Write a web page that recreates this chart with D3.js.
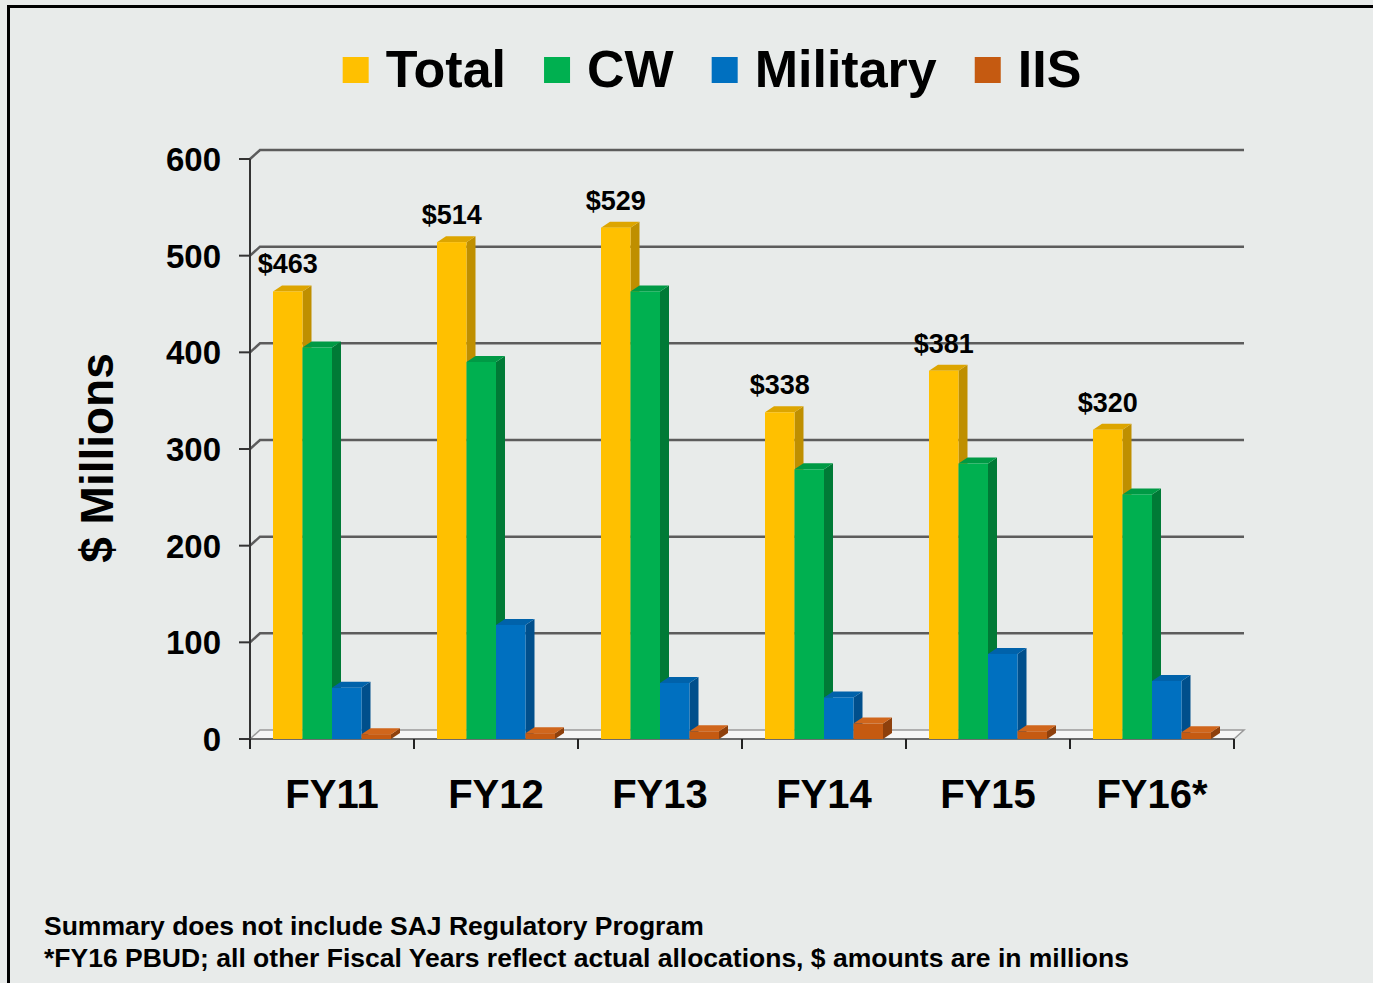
<!DOCTYPE html>
<html lang="en">
<head>
  <meta charset="UTF-8">
  <title>Funding by Fiscal Year</title>
  <style>
    body { margin: 0; background: #e8ebea; }
    svg { display: block; font-family: "Liberation Sans", Arial, sans-serif; font-weight: bold; }
  </style>
</head>
<body>
  <svg id="chart" width="1373" height="983"></svg>
  <script src="https://d3js.org/d3.v7.min.js"></script>
  <script>
    // data ($ millions)
    const years = ['FY11', 'FY12', 'FY13', 'FY14', 'FY15', 'FY16*']
    const seriesNames = ['Total', 'CW', 'Military', 'IIS']
    const total = [463, 514, 529, 338, 381, 320]
    const cw = [405, 390, 463, 279, 285, 253]
    const military = [53, 118, 58, 43, 88, 60]
    const iis = [5, 6, 8, 16, 8, 7]
    const yTicks = [0, 100, 200, 300, 400, 500, 600]
    const notes = [
      'Summary does not include SAJ Regulatory Program',
      '*FY16 PBUD; all other Fiscal Years reflect actual allocations, $ amounts are in millions'
    ]

    const values = { Total: total, CW: cw, Military: military, IIS: iis }
    const colors = {
      Total:    { front: '#FFC000', top: '#DDA500', side: '#BF8F00' },
      CW:       { front: '#00B050', top: '#009A45', side: '#007A36' },
      Military: { front: '#0070C0', top: '#0062AA', side: '#004F8C' },
      IIS:      { front: '#C55A11', top: '#D0661C', side: '#8E400C' }
    }

    const svg = d3.select('#chart')
    const width = +svg.attr('width')
    const height = +svg.attr('height')

    // chart depth (back wall offset) and bar depth
    const wallDx = 10, wallDy = -9
    const barDx = 9, barDy = -6

    const x0 = d3.scaleBand().domain(years).range([250, 1234])
    const x1 = d3.scaleBand().domain(seriesNames).range([0, x0.bandwidth()])
      .paddingInner(0).paddingOuter(0.78)
    const y = d3.scaleLinear().domain([0, 600]).range([739, 159])

    // background and frame
    svg.append('rect').attr('width', width).attr('height', height).attr('fill', '#e8ebea')
    svg.append('rect')
      .attr('x', 8.5).attr('y', 6.5)
      .attr('width', width + 10).attr('height', height + 10)
      .attr('fill', 'none').attr('stroke', '#000').attr('stroke-width', 3)

    // floor
    const fl = x0.range()[0], fr = x0.range()[1], f0 = y(0)
    svg.append('path')
      .attr('d', `M${fl},${f0} L${fl + wallDx},${f0 + wallDy} L${fr + wallDx},${f0 + wallDy} L${fr},${f0} Z`)
      .attr('fill', '#f6f6f6').attr('stroke', '#9a9a9a').attr('stroke-width', 1.5)

    // gridlines on the back wall, with the diagonal on the side wall
    svg.append('g').selectAll('path')
      .data(yTicks.filter(d => d > 0))
      .join('path')
      .attr('d', d => `M${fl},${y(d)} L${fl + wallDx},${y(d) + wallDy} L${fr + wallDx},${y(d) + wallDy}`)
      .attr('fill', 'none')
      .attr('stroke', '#5c5c5c')
      .attr('stroke-width', 2.5)

    // value axis
    const yAxis = svg.append('g')
    yAxis.append('line')
      .attr('x1', fl).attr('x2', fl).attr('y1', y(600)).attr('y2', y(0))
      .attr('stroke', '#333').attr('stroke-width', 2)
    yAxis.selectAll('.tick')
      .data(yTicks)
      .join('g')
      .attr('class', 'tick')
      .attr('transform', d => `translate(0,${y(d)})`)
      .call(g => g.append('line').attr('x1', fl - 11).attr('x2', fl)
        .attr('stroke', '#333').attr('stroke-width', 2))
      .call(g => g.append('text')
        .attr('x', 221).attr('dy', '0.36em')
        .attr('text-anchor', 'end')
        .attr('font-size', 33)
        .attr('fill', '#000')
        .text(d => d))

    // category axis
    const xAxis = svg.append('g')
    xAxis.append('line')
      .attr('x1', fl).attr('x2', fr).attr('y1', f0).attr('y2', f0)
      .attr('stroke', '#555').attr('stroke-width', 1.5)
    xAxis.selectAll('.xtick')
      .data(years.concat(['end']))
      .join('line')
      .attr('x1', (d, i) => fl + i * x0.step())
      .attr('x2', (d, i) => fl + i * x0.step())
      .attr('y1', f0).attr('y2', f0 + 10)
      .attr('stroke', '#222').attr('stroke-width', 2)
    xAxis.selectAll('.xlabel')
      .data(years)
      .join('text')
      .attr('x', d => x0(d) + x0.bandwidth() / 2)
      .attr('y', 808)
      .attr('text-anchor', 'middle')
      .attr('font-size', 40)
      .attr('fill', '#000')
      .text(d => d)

    // 3D bars, drawn left to right so each bar covers its neighbour's side
    const bars = []
    years.forEach((yr, i) => {
      seriesNames.forEach(s => bars.push({ year: yr, series: s, value: values[s][i] }))
    })

    const barG = svg.append('g').selectAll('g')
      .data(bars)
      .join('g')

    barG.each(function (d) {
      const g = d3.select(this)
      const x = x0(d.year) + x1(d.series)
      const w = x1.bandwidth()
      const yt = y(d.value)
      const yb = y(0)
      const c = colors[d.series]
      g.append('path')
        .attr('d', `M${x + w},${yt} L${x + w + barDx},${yt + barDy} L${x + w + barDx},${yb + barDy} L${x + w},${yb} Z`)
        .attr('fill', c.side)
      g.append('path')
        .attr('d', `M${x},${yt} L${x + barDx},${yt + barDy} L${x + w + barDx},${yt + barDy} L${x + w},${yt} Z`)
        .attr('fill', c.top)
      g.append('rect')
        .attr('x', x).attr('y', yt)
        .attr('width', w).attr('height', yb - yt)
        .attr('fill', c.front)
    })

    // total labels
    svg.append('g').selectAll('text')
      .data(total)
      .join('text')
      .attr('x', (d, i) => x0(years[i]) + x1('Total') + x1.bandwidth() / 2)
      .attr('y', d => y(d) - 18)
      .attr('text-anchor', 'middle')
      .attr('font-size', 27)
      .attr('fill', '#000')
      .text(d => '$' + d)

    // axis title
    svg.append('text')
      .attr('transform', 'translate(113,458) rotate(-90)')
      .attr('text-anchor', 'middle')
      .attr('font-size', 46)
      .attr('fill', '#000')
      .text('$ Millions')

    // legend, centred
    const legend = svg.append('g').attr('transform', 'translate(0,87)')
    const items = legend.selectAll('g')
      .data(seriesNames)
      .join('g')
    items.append('rect')
      .attr('y', -30).attr('width', 26).attr('height', 26)
      .attr('fill', d => colors[d].front)
    items.append('text')
      .attr('x', 43)
      .attr('font-size', 52)
      .attr('fill', '#000')
      .text(d => d)
    let cursor = 0
    const offsets = []
    items.each(function () {
      offsets.push(cursor)
      cursor += 43 + this.querySelector('text').getComputedTextLength() + 38
    })
    const legendWidth = cursor - 38
    const legendStart = 712 - legendWidth / 2
    items.attr('transform', (d, i) => `translate(${legendStart + offsets[i]},0)`)

    // notes
    svg.append('g').selectAll('text')
      .data(notes)
      .join('text')
      .attr('x', 44)
      .attr('y', (d, i) => 935 + i * 32)
      .attr('font-size', 26.5)
      .attr('fill', '#000')
      .text(d => d)
  </script>
</body>
</html>
